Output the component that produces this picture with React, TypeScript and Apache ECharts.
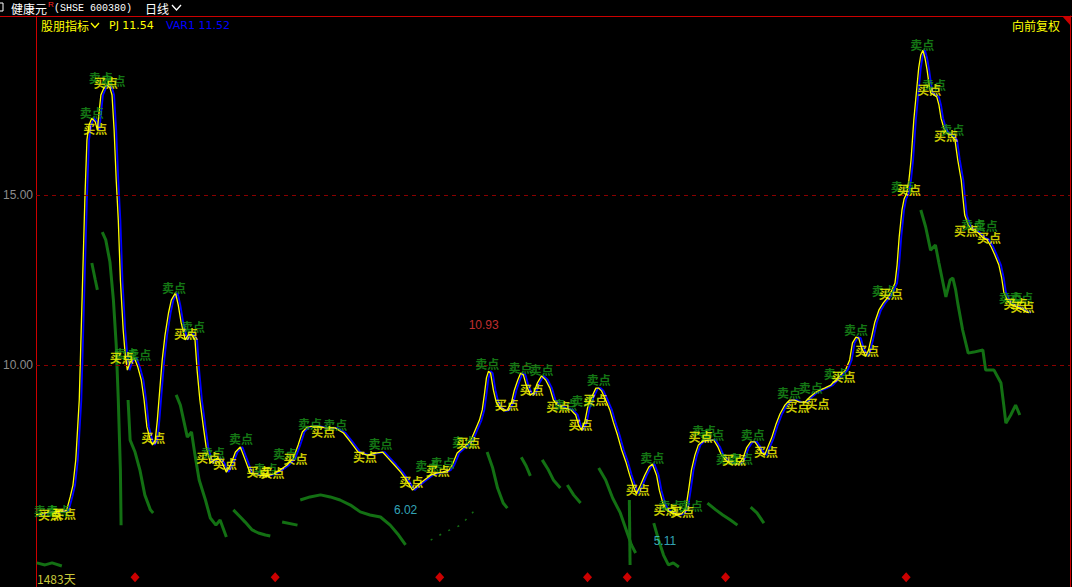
import React, { useEffect, useRef } from 'react';
import * as echarts from 'echarts';

const TOTAL_DAYS = 1483;
const VAR1_LAG_DAYS = 3;
const Y_MIN = 3.471;
const Y_MAX = 20.265;

// PJ smoothed line: [day, price]
const pjLine: [number, number][] = [
  [0,5.59],[13,5.65],[27,5.68],[42,5.71],[44,5.74],[49,6.12],[53,6.47],[57,7.21],[62,8.97],[66,11.91],[70,14.85],[73,16.62],[76,17.06],[80,17.26],[85,17.15],[88,16.91],[90,17.35],[93,17.94],[98,18.18],[102,18.24],[106,18.15],[109,17.94],[112,16.91],[115,15.44],[118,14.26],[121,12.5],[125,11.03],[128,10.29],[131,9.85],[135,10.09],[141,10.21],[146,9.94],[151,9.56],[155,8.97],[159,8.18],[164,7.79],[167,7.65],[171,7.79],[174,8.38],[178,9.41],[181,10.15],[185,10.88],[190,11.53],[194,11.91],[200,12.12],[204,11.76],[208,11.26],[214,10.74],[218,10.88],[223,10.91],[228,10.74],[231,9.85],[235,8.97],[240,8.18],[244,7.59],[250,7.12],[256,7.21],[261,7.26],[267,7.12],[273,6.85],[279,7.06],[286,7.44],[293,7.59],[300,7.21],[307,6.82],[319,6.76],[330,6.74],[340,6.79],[350,6.91],[360,7.06],[369,7.26],[376,7.65],[382,8.03],[389,8.18],[401,8.21],[415,8.15],[429,8.15],[441,8.0],[451,7.74],[462,7.44],[475,7.35],[487,7.41],[497,7.44],[505,7.26],[514,7.06],[523,6.85],[531,6.62],[540,6.32],[548,6.47],[557,6.62],[566,6.76],[574,6.82],[583,6.85],[592,6.91],[597,7.06],[604,7.41],[612,7.56],[619,7.68],[625,7.85],[630,8.09],[636,8.38],[640,8.68],[643,9.12],[646,9.62],[649,9.82],[652,9.76],[656,9.26],[660,8.91],[665,8.74],[671,8.65],[676,8.68],[682,8.91],[686,9.26],[691,9.56],[695,9.76],[699,9.71],[703,9.41],[709,9.12],[714,9.18],[719,9.47],[725,9.68],[731,9.56],[737,9.32],[742,8.97],[748,8.82],[757,8.74],[767,8.68],[774,8.53],[778,8.24],[782,8.09],[787,8.32],[791,8.74],[797,9.06],[803,9.32],[807,9.32],[811,9.24],[817,8.97],[823,8.68],[828,8.32],[834,7.94],[840,7.5],[846,7.15],[851,6.79],[856,6.47],[861,6.21],[867,6.47],[873,6.76],[879,7.0],[884,7.09],[890,6.76],[894,6.32],[899,5.94],[904,5.74],[912,5.65],[919,5.59],[926,5.62],[932,5.79],[936,6.32],[940,6.91],[945,7.35],[950,7.65],[956,7.76],[965,7.79],[972,7.79],[978,7.59],[983,7.35],[992,7.15],[1001,7.09],[1008,7.09],[1014,7.26],[1019,7.56],[1025,7.74],[1031,7.74],[1035,7.62],[1041,7.41],[1045,7.35],[1049,7.56],[1055,7.85],[1061,8.24],[1067,8.56],[1074,8.82],[1081,8.97],[1088,8.97],[1095,8.91],[1103,8.91],[1110,9.06],[1117,9.18],[1124,9.26],[1131,9.32],[1140,9.41],[1147,9.56],[1154,9.71],[1161,9.85],[1167,10.15],[1171,10.65],[1176,10.82],[1180,10.79],[1184,10.5],[1190,10.26],[1194,10.44],[1199,10.88],[1203,11.26],[1209,11.62],[1215,11.82],[1222,12.0],[1227,12.18],[1232,12.41],[1235,12.94],[1238,13.76],[1242,14.56],[1245,14.88],[1249,15.06],[1252,15.44],[1255,16.03],[1259,17.21],[1263,18.09],[1266,18.74],[1269,19.12],[1272,19.26],[1275,19.03],[1278,18.68],[1281,18.24],[1283,18.0],[1288,17.94],[1292,17.88],[1295,17.65],[1298,17.26],[1302,16.97],[1306,16.82],[1312,16.76],[1318,16.62],[1322,16.03],[1327,15.44],[1329,15.0],[1332,14.41],[1337,14.12],[1342,13.97],[1350,13.91],[1357,13.76],[1364,13.68],[1370,13.47],[1375,13.24],[1381,12.94],[1385,12.56],[1388,12.15],[1393,11.91],[1398,11.79],[1406,11.71],[1413,11.65],[1420,11.56],[1424,11.54],
];

// 卖点 signals: [day, price]
const sellPoints: [number, number][] = [
  [14,5.71],[32,5.71],[80,17.44],[93,18.47],[111,18.38],[129,10.35],[148,10.32],[198,12.29],[225,11.12],[254,7.44],[294,7.85],[329,6.97],[357,7.41],[393,8.29],[429,8.26],[494,7.68],[561,7.03],[583,7.12],[614,7.76],[647,10.03],[695,9.94],[725,9.88],[759,8.85],[785,8.97],[807,9.56],[884,7.29],[910,5.88],[939,5.88],[958,8.06],[970,7.97],[992,7.26],[1011,7.24],[1028,7.97],[1080,9.18],[1111,9.35],[1147,9.76],[1176,11.03],[1216,12.18],[1243,15.24],[1271,19.44],[1288,18.24],[1314,16.94],[1344,14.12],[1362,14.09],[1398,12.0],[1413,12.0],
];

// 买点 signals: [day, price]
const buyPoints: [number, number][] = [
  [20,5.59],[40,5.62],[85,16.97],[100,18.32],[123,10.21],[168,7.88],[215,10.94],[247,7.29],[271,7.09],[319,6.88],[339,6.85],[372,7.24],[412,8.03],[472,7.32],[538,6.56],[576,6.91],[620,7.71],[675,8.85],[711,9.29],[749,8.79],[802,9.0],[781,8.26],[863,6.35],[903,5.74],[927,5.68],[953,7.91],[1001,7.21],[1047,7.47],[1092,8.79],[1121,8.88],[1158,9.65],[1192,10.44],[1226,12.09],[1252,15.15],[1281,18.09],[1305,16.76],[1334,13.97],[1367,13.74],[1405,11.82],[1415,11.71],
];

// dark green falling-price strokes: [day, price]
const greenSegments: [number, number][][] = [
  [[1,4.18],[13,4.12],[23,4.18],[37,4.09]],
  [[80,13.0],[85,12.5],[88,12.21]],
  [[95,13.91],[100,13.68],[106,13.03],[111,11.91],[115,10.59],[118,8.97],[121,6.91],[122,5.29]],
  [[132,8.97],[135,7.79],[142,7.44],[149,6.91],[156,6.18],[164,5.74],[168,5.65]],
  [[201,9.12],[207,8.82],[217,7.88],[223,8.03],[228,7.35],[234,6.62],[243,6.03],[250,5.5],[258,5.29],[264,5.44],[273,4.94]],
  [[283,5.74],[293,5.53],[300,5.38],[310,5.15],[319,5.06],[329,5.0],[336,4.97]],
  [[353,5.38],[375,5.29]],
  [[379,6.03],[393,6.12],[408,6.18],[422,6.12],[436,6.03],[451,5.88],[465,5.68],[479,5.59],[494,5.53],[508,5.29],[520,5.0],[530,4.71]],
  [[647,7.44],[655,6.97],[662,6.38],[670,5.94],[676,5.79]],
  [[696,7.29],[703,7.03],[709,6.74]],
  [[726,7.21],[735,6.91],[742,6.62],[752,6.38]],
  [[762,6.47],[771,6.18],[781,5.94]],
  [[807,6.97],[817,6.62],[827,6.09],[838,5.65],[848,5.06],[854,4.71],[860,4.47]],
  [[851,6.03],[852,4.12]],
  [[886,5.35],[893,4.85],[900,4.41],[907,4.12],[914,4.18],[922,4.06]],
  [[963,5.94],[975,5.74],[985,5.59],[996,5.44],[1006,5.29]],
  [[1025,5.82],[1034,5.65],[1044,5.35]],
  [[1269,14.56],[1276,14.06],[1283,13.38],[1290,13.53],[1295,13.0],[1305,12.0],[1311,12.5],[1315,12.56],[1319,12.21],[1322,11.82],[1329,11.03],[1337,10.35],[1345,10.38],[1358,10.44],[1362,9.85],[1374,9.85],[1384,9.47],[1388,8.82],[1391,8.29],[1398,8.53],[1405,8.82],[1411,8.53]],
];

// sparse dotted rising traces
const dottedSegments: [number, number][][] = [
  [[566,4.85],[587,5.09],[609,5.29],[630,5.74]],
];

const signalDays = [142, 343, 579, 791, 848, 989, 1248];
const SIGNAL_PRICE = 3.76;

const extremeDays = [642, 530, 902];
const extremePrices = [10.93, 6.02, 5.11];

const gridLevels = [10, 15];

const CJK = '"Noto Sans CJK SC", sans-serif';

export default function App() {
  const ref = useRef<HTMLDivElement>(null);

  useEffect(() => {
    if (!ref.current) return;
    const chart = echarts.init(ref.current, undefined, { renderer: 'svg' });

    const greenSeries = greenSegments.map((seg) => ({
      type: 'line',
      data: seg,
      showSymbol: false,
      silent: true,
      z: 1,
      lineStyle: { color: '#137013', width: 3 },
    }));
    const dottedSeries = dottedSegments.map((seg) => ({
      type: 'line',
      data: seg,
      showSymbol: false,
      silent: true,
      z: 1,
      lineStyle: { color: '#137013', width: 1.5, type: [2, 8] },
    }));

    const extremeColors = ['#F03C3C', '#40D0E4', '#40D0E4'];

    chart.setOption({
      animation: false,
      backgroundColor: '#000000',
      grid: { left: 36, right: 2, top: 16, bottom: 0, show: false },
      xAxis: [
        { type: 'value', min: 0, max: TOTAL_DAYS, show: false },
        { type: 'value', min: -VAR1_LAG_DAYS, max: TOTAL_DAYS - VAR1_LAG_DAYS, show: false },
      ],
      yAxis: [
        {
          type: 'value',
          min: Y_MIN,
          max: Y_MAX,
          axisLine: { show: true, onZero: false, lineStyle: { color: '#CC0000', width: 1 } },
          axisTick: { show: false },
          splitLine: { show: false },
          axisLabel: {
            customValues: gridLevels,
            formatter: (v: number) => v.toFixed(2),
            color: '#8C8C8C',
            fontSize: 12,
            fontFamily: 'Arial, "Liberation Sans", sans-serif',
            margin: 3,
          },
        },
        {
          type: 'value',
          position: 'right',
          min: Y_MIN,
          max: Y_MAX,
          axisLine: { show: true, onZero: false, lineStyle: { color: '#CC0000', width: 1 } },
          axisTick: { show: false },
          axisLabel: { show: false },
          splitLine: { show: false },
        },
      ],
      series: [
        ...greenSeries,
        ...dottedSeries,
        {
          type: 'line',
          data: [],
          silent: true,
          z: 1,
          markLine: {
            silent: true,
            symbol: ['none', 'none'],
            label: { show: false },
            lineStyle: { color: '#8B0000', type: [4, 4], width: 1 },
            data: gridLevels.map((v) => ({ yAxis: v })),
          },
        },
        {
          name: 'VAR1',
          type: 'line',
          xAxisIndex: 1,
          data: pjLine,
          showSymbol: false,
          silent: true,
          z: 3,
          lineStyle: { color: '#0000FF', width: 1.8 },
        },
        {
          name: 'PJ',
          type: 'line',
          data: pjLine,
          showSymbol: false,
          silent: true,
          z: 4,
          lineStyle: { color: '#FFFF00', width: 1.3 },
        },
        {
          type: 'scatter',
          data: sellPoints,
          symbolSize: 0,
          silent: true,
          z: 6,
          label: {
            show: true,
            position: 'inside',
            formatter: '卖点',
            color: '#1A961A',
            fontSize: 12,
            fontWeight: 'bold',
            fontFamily: CJK,
          },
        },
        {
          type: 'scatter',
          data: buyPoints,
          symbolSize: 0,
          silent: true,
          z: 7,
          label: {
            show: true,
            position: 'inside',
            formatter: '买点',
            color: '#FFFF00',
            fontSize: 12,
            fontWeight: 'bold',
            fontFamily: CJK,
          },
        },
        {
          type: 'scatter',
          data: extremeDays.map((d, i) => ({
            value: [d, extremePrices[i]],
            label: {
              position: i === 0 ? 'top' : 'bottom',
              distance: i === 0 ? 2 : 4,
              color: extremeColors[i],
            },
          })),
          symbolSize: 0,
          silent: true,
          z: 6,
          label: {
            show: true,
            formatter: (p: any) => p.value[1].toFixed(2),
            fontSize: 12,
            fontFamily: 'Arial, sans-serif',
          },
        },
        {
          type: 'scatter',
          data: signalDays.map((d) => [d, SIGNAL_PRICE]),
          symbol: 'diamond',
          symbolSize: [9, 10],
          silent: true,
          z: 6,
          itemStyle: { color: '#FF0000' },
        },
      ],
      graphic: [
        { type: 'line', shape: { x1: 0, y1: 16.5, x2: 1072, y2: 16.5 }, style: { stroke: '#CC0000', lineWidth: 1 } },
        { type: 'polygon', shape: { points: [[1062, 16], [1071, 16], [1071, 26]] }, style: { fill: '#CC0000' } },
        { type: 'rect', shape: { x: -4, y: 3, width: 7, height: 8 }, style: { fill: 'none', stroke: '#FFFFFF', lineWidth: 1 } },
        { type: 'text', style: { text: '健康元', x: 11, y: 8, fill: '#FFFFFF', font: `12px ${CJK}`, textVerticalAlign: 'middle' } },
        { type: 'text', style: { text: 'R', x: 48, y: 4, fill: '#FF2020', font: '8px Arial, sans-serif', textVerticalAlign: 'middle' } },
        { type: 'text', style: { text: '(SHSE 600380)', x: 54, y: 8, fill: '#FFFFFF', font: '10px "Liberation Mono", monospace', textVerticalAlign: 'middle' } },
        { type: 'text', style: { text: '日线', x: 145, y: 8, fill: '#FFFFFF', font: `12px ${CJK}`, textVerticalAlign: 'middle' } },
        { type: 'polyline', shape: { points: [[172, 5], [176.5, 10], [181, 5]] }, style: { stroke: '#FFFFFF', lineWidth: 1.3, fill: 'none' } },
        { type: 'text', style: { text: '股朋指标', x: 41, y: 25, fill: '#FFFF00', font: `12px ${CJK}`, textVerticalAlign: 'middle' } },
        { type: 'polyline', shape: { points: [[91, 23], [95, 27.5], [99, 23]] }, style: { stroke: '#FFFF00', lineWidth: 1.3, fill: 'none' } },
        { type: 'text', style: { text: 'PJ 11.54', x: 109, y: 25, fill: '#FFFF00', font: '11px "DejaVu Sans", sans-serif', textVerticalAlign: 'middle' } },
        { type: 'text', style: { text: 'VAR1 11.52', x: 166, y: 25, fill: '#0000FF', font: '11px "DejaVu Sans", sans-serif', textVerticalAlign: 'middle' } },
        { type: 'text', style: { text: '向前复权', x: 1012, y: 25, fill: '#FFFF00', font: `12px ${CJK}`, textVerticalAlign: 'middle' } },
        { type: 'text', style: { text: '1483天', x: 37, y: 578, fill: '#C8C83C', font: `12px ${CJK}`, textVerticalAlign: 'middle' } },
      ],
    });

    return () => chart.dispose();
  }, []);

  return (
    <div
      ref={ref}
      style={{ position: 'fixed', left: 0, top: 0, width: 1072, height: 587, background: '#000' }}
    />
  );
}
